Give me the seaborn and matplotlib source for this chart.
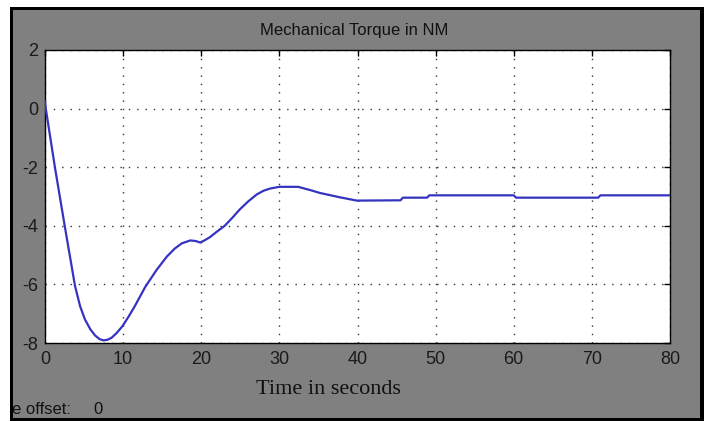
import matplotlib
matplotlib.use("Agg")
import matplotlib.pyplot as plt
from matplotlib.patches import Rectangle
import numpy as np
import pandas as pd
import seaborn as sns

# ---- data ----
time_s = [0, 0.1, 1.28, 2.56, 3.84, 4.5, 5.12, 5.8, 6.4, 7.0, 7.47, 8.0,
          8.53, 9.2, 9.9, 10.7, 11.5, 12.8, 14.3, 15.6, 16.6, 17.5, 18.6,
          19.3, 19.85, 20.4, 21.1, 22.0, 23.0, 24.0, 24.9, 26.0, 27.1, 28.0,
          28.8, 30.0, 32.4, 33.8, 35.2, 37.8, 39.9, 45.5, 45.8, 48.9, 49.2,
          60.0, 60.3, 70.8, 71.1, 80.0]
torque = [0.25, 0.0, -2.02, -4.06, -6.05, -6.75, -7.2, -7.53, -7.74, -7.87, -7.91, -7.89,
          -7.82, -7.65, -7.43, -7.1, -6.74, -6.1, -5.5, -5.05, -4.78, -4.6, -4.5,
          -4.52, -4.57, -4.5, -4.39, -4.2, -4.0, -3.72, -3.45, -3.17, -2.93, -2.8,
          -2.73, -2.67, -2.67, -2.77, -2.88, -3.03, -3.14, -3.13, -3.04, -3.04, -2.96,
          -2.96, -3.04, -3.04, -2.96, -2.96]
x_ticks = [0, 10, 20, 30, 40, 50, 60, 70, 80]
y_ticks = [-8, -6, -4, -2, 0, 2]
title_text = "Mechanical Torque in NM"
xlabel_text = "Time in seconds"
offset_label = "e offset:"
offset_value = "0"

df = pd.DataFrame({"t": time_s, "torque": torque})

sns.set_style("white")
plt.rcParams["font.family"] = ["Liberation Sans", "DejaVu Sans"]

W, H = 704, 421
fig = plt.figure(figsize=(W / 100, H / 100), dpi=100)
fig.patch.set_facecolor("white")

# frame: black border + gray panel
fig.add_artist(Rectangle((10 / W, 0), (W - 10) / W, (H - 7) / H,
                         transform=fig.transFigure, facecolor="black",
                         edgecolor="none", zorder=0))
fig.add_artist(Rectangle((13 / W, 3 / H), (700 - 13) / W, (418 - 10) / H,
                         transform=fig.transFigure, facecolor="#808080",
                         edgecolor="none", zorder=0))

ax = fig.add_axes([45 / W, (H - 343) / H, (670 - 45) / W, (343 - 50) / H])
ax.set_zorder(2)
ax.set_facecolor("white")

sns.lineplot(data=df, x="t", y="torque", ax=ax, color="#3434c0",
             linewidth=1.6, zorder=3)

ax.set_xlim(0, 80)
ax.set_ylim(-8, 2)
ax.set_xticks(x_ticks)
ax.set_yticks(y_ticks)
ax.set_xticklabels([str(v) for v in x_ticks])
ax.set_yticklabels([str(v) for v in y_ticks])
ax.set_xlabel("")
ax.set_ylabel("")

ax.grid(True, color="#333333", linestyle=(0, (1, 5)), linewidth=1.0, zorder=1)
for s in ax.spines.values():
    s.set_color("black")
    s.set_linewidth(1.0)
    s.set_visible(True)

ax.tick_params(axis="both", which="both", direction="in", length=4, width=1,
               colors="black", labelcolor="#1a1a1a", labelsize=13,
               top=True, right=True)
ax.tick_params(axis="x", pad=6)
ax.tick_params(axis="y", pad=5)

fig.text(354 / W, 1 - 30 / H, title_text, ha="center", va="center",
         fontsize=12, color="#111111")
fig.text(328 / W, 1 - 390 / H, xlabel_text, ha="center", va="center",
         fontsize=16, color="#111111", family=["Liberation Serif", "DejaVu Serif"])
fig.text(12 / W, 1 - 410 / H, offset_label, ha="left", va="center",
         fontsize=12, color="#111111")
fig.text(93 / W, 1 - 410 / H, offset_value, ha="left", va="center",
         fontsize=12, color="#111111")

fig.savefig("out.png", dpi=100, facecolor=fig.get_facecolor())
